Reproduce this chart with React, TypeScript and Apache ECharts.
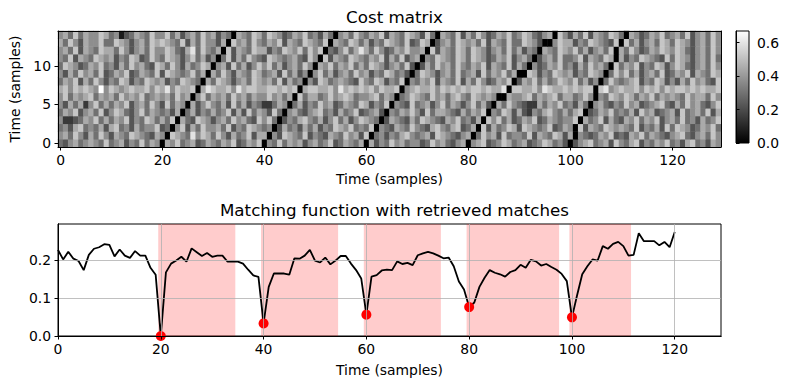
import React, { useEffect, useRef } from "react";
import * as echarts from "echarts";

const FONT = "'DejaVu Sans', sans-serif";

// Cost matrix, row 0 (bottom) to row 14 (top); each digit d is a grey level d/9 * costColorMax
const costRows: string[] = [
  "4356456547 4563547465 4657456346 5465734657 3547465635 6457346546 4635475645 5347564356 4567345764 5634576453 4356745637 5467354657 4536745365",
  "5647536475 3654765436 5476548576 4753645736 6453765473 5436547563 7645354675 4563765435 6347563745 5473654763 6754346573 4365746543 5674356475",
  "4536745463 6745364557 3465736475 5647354765 4573645364 6354765745 4765436547 5436754673 4657364576 3765457346 5473654765 6547354637 4765346574",
  "5223465746 4657354764 6475643765 3564756437 5746354675 4635746357 6547365436 4765436574 5364757463 4657346545 5736457364 3657465735 6474536457",
  "4657356473 5764357465 4536746354 6457363746 5374656435 6745364573 4563754657 5374665436 4657354763 6325467546 4675346574 5463756345 6374564736",
  "5364625746 4657356475 3746546357 5463746354 2246574635 4756346547 6354765437 4563574653 5746356475 4322646574 5364756435 4756345674 3647564357",
  "5746567465 6475657456 5647566574 6564756465 5756465746 6457567645 5674656457 6547564675 4765657465 5674656746 6457565476 5764657465 6547566475",
  "6757676595 7656766757 6857667768 7667586776 6776767567 7667586767 6757667756 7667576767 6776766857 7667587667 6767767856 7667576757 6776767667",
  "4657364753 5476354765 6354765426 4765356476 5647364575 3764565437 5476354765 4657365473 6475346574 3657464576 5746356475 4567354763 5364756437",
  "5364756473 4657346547 3765457463 6475365476 4563746354 5746356475 6354764537 4765356474 5637465746 4576354765 6354765347 5746356473 4657365476",
  "4765346574 5364756437 6475364576 4563746357 5746356475 3657465746 4765356473 5364756475 4657365473 6475346574 5364756437 4657354763 5764356475",
  "5473654765 6354763475 4765357463 5647364754 3765456437 5473654765 4657364735 6354765476 4765346573 5647356474 4573654765 6354765437 4765356474",
  "5647365476 6475356475 5764368475 4657365476 6354765747 5764357468 6475346575 5647365476 4765356474 6354765476 5746356475 6475346576 5764356475",
  "6475365574 4765356476 7654736475 5364756475 4657365476 5473654764 6354765473 4765356476 5647365474 4765346576 6354765437 5746356476 4765356475",
  "5647465576 4513465475 5746356475 6354765476 4765346574 5364656475 4657365476 5374665473 6475346574 5764356475 3647365476 4765346574 5647356475",
];
const costColorMax = 0.67;

// Warping paths (zero-cost cells): for each row 0..14, the column(s) on the path
const warpPaths: number[][][] = [
  [[20], [21], [22], [23], [24], [25], [26], [27], [28], [29], [30], [31], [32], [33], [34]],
  [[40], [41], [42], [43], [44], [45], [46], [47], [48], [49], [50], [51], [52], [53], [54]],
  [[60], [61], [62], [63], [64], [65], [66], [67], [68], [69], [70], [71], [72], [73], [74]],
  [[80], [81], [82], [83], [84], [85], [86, 87], [88], [89], [90, 91], [92], [93], [94], [95, 96], [97]],
  [[100], [101], [101], [102], [103], [104], [105], [105], [106], [107], [108], [109], [109], [110], [111]],
];

const matchStarts = [20, 40, 60, 80, 100];
const matchEnds = [34, 54, 74, 97, 111];

const deltaValues = [
  0.226, 0.201, 0.221, 0.203, 0.197, 0.173, 0.213, 0.229, 0.233, 0.241,
  0.239, 0.209, 0.227, 0.211, 0.205, 0.223, 0.211, 0.211, 0.179, 0.161,
  0.0, 0.167, 0.19, 0.198, 0.208, 0.195, 0.23, 0.22, 0.21, 0.218,
  0.208, 0.211, 0.211, 0.195, 0.196, 0.195, 0.19, 0.174, 0.159, 0.155,
  0.033, 0.129, 0.164, 0.164, 0.164, 0.161, 0.204, 0.203, 0.211, 0.226,
  0.198, 0.193, 0.206, 0.188, 0.198, 0.21, 0.21, 0.19, 0.173, 0.151,
  0.056, 0.156, 0.16, 0.172, 0.174, 0.173, 0.196, 0.189, 0.192, 0.186,
  0.212, 0.217, 0.221, 0.217, 0.211, 0.204, 0.206, 0.183, 0.143, 0.122,
  0.076, 0.088, 0.129, 0.153, 0.173, 0.166, 0.162, 0.156, 0.168, 0.173,
  0.187, 0.179, 0.2, 0.196, 0.185, 0.189, 0.181, 0.174, 0.163, 0.144,
  0.049, 0.107, 0.162, 0.183, 0.201, 0.198, 0.236, 0.229, 0.242, 0.247,
  0.236, 0.211, 0.213, 0.27, 0.249, 0.249, 0.249, 0.238, 0.247, 0.233,
  0.273,
];

const heatXTicks = [0, 20, 40, 60, 80, 100, 120];
const heatYTicks = [0, 5, 10];
const deltaXTicks = [0, 20, 40, 60, 80, 100, 120];
const deltaYTicks = [0, 0.1, 0.2];
const colorbarTicks = [0, 0.2, 0.4, 0.6];

function buildOption() {
  const rows = costRows.map((r) => r.replace(/ /g, ""));
  const colCats = rows[0].split("").map((_, i) => String(i));
  const rowCats = rows.map((_, i) => String(i));
  const grid: number[][] = rows.map((r) => r.split("").map((d) => (Number(d) / 9) * costColorMax));
  warpPaths.forEach((path) =>
    path.forEach((cols, r) => cols.forEach((c) => { grid[r][c] = 0; }))
  );
  const heatData: number[][] = [];
  grid.forEach((row, r) => row.forEach((v, c) => heatData.push([c, r, v])));

  const black = { color: "#000" };
  const labelStyle = { color: "#000", fontFamily: FONT, fontSize: 13.9 };
  const nameStyle = { color: "#000", fontFamily: FONT, fontSize: 13.9 };
  const titleStyle = { color: "#000", fontFamily: FONT, fontSize: 16.7, fontWeight: "normal" as const };
  const xTickFn = (i: number) => heatXTicks.includes(i);
  const yTickFn = (i: number) => heatYTicks.includes(i);
  const grey = { color: "#b0b0b0", width: 0.8 };

  return {
    animation: false,
    backgroundColor: "#fff",
    textStyle: { fontFamily: FONT },
    title: [
      { text: "Cost matrix", left: 389.5, textAlign: "center", top: 3, textStyle: titleStyle },
      { text: "Matching function with retrieved matches", left: 389.5, textAlign: "center", top: 196, textStyle: titleStyle },
    ],
    grid: [
      { left: 58, right: 69, top: 31, height: 116, outerBoundsMode: "none" },
      { left: 58, right: 69, top: 224, height: 112, show: true, borderColor: "#000", borderWidth: 1, outerBoundsMode: "none" },
      {
        left: 736, width: 13, top: 31, height: 112, show: true, borderColor: "#000", borderWidth: 1, outerBoundsMode: "none",
        backgroundColor: new echarts.graphic.LinearGradient(0, 0, 0, 1, [
          { offset: 0, color: "#ffffff" },
          { offset: 1, color: "#000000" },
        ]),
      },
    ],
    visualMap: {
      type: "continuous", show: false, min: 0, max: costColorMax, seriesIndex: 0, dimension: 2,
      inRange: { color: ["#000000", "#ffffff"] },
    },
    xAxis: [
      {
        type: "category", gridIndex: 0, data: colCats, z: 5,
        axisLine: { show: true, lineStyle: black },
        axisTick: { show: true, interval: xTickFn, alignWithLabel: true, length: 3.5, lineStyle: black },
        axisLabel: { interval: xTickFn, margin: 6, ...labelStyle },
        splitLine: { show: false },
        name: "Time (samples)", nameLocation: "middle", nameGap: 25, nameTextStyle: nameStyle,
      },
      {
        type: "category", gridIndex: 0, position: "top", data: colCats, z: 5,
        axisLine: { show: true, lineStyle: black }, axisTick: { show: false }, axisLabel: { show: false }, splitLine: { show: false },
      },
      {
        type: "value", gridIndex: 1, min: 0, max: 129, interval: 20, z: 5,
        axisLine: { show: true, lineStyle: black },
        axisTick: { show: true, length: 3.5, lineStyle: black, customValues: deltaXTicks },
        axisLabel: { margin: 6, customValues: deltaXTicks, ...labelStyle },
        splitLine: { show: true, lineStyle: grey },
        name: "Time (samples)", nameLocation: "middle", nameGap: 27, nameTextStyle: nameStyle,
      },
      {
        type: "value", gridIndex: 1, position: "top", min: 0, max: 129, z: 5,
        axisLine: { show: true, lineStyle: black }, axisTick: { show: false }, axisLabel: { show: false }, splitLine: { show: false },
      },
      { type: "value", gridIndex: 2, min: 0, max: 1, show: false },
    ],
    yAxis: [
      {
        type: "category", gridIndex: 0, data: rowCats, z: 5,
        axisLine: { show: true, lineStyle: black },
        axisTick: { show: true, interval: yTickFn, alignWithLabel: true, length: 3.5, lineStyle: black },
        axisLabel: { interval: yTickFn, margin: 7, ...labelStyle },
        splitLine: { show: false },
        name: "Time (samples)", nameLocation: "middle", nameGap: 36, nameRotate: 90, nameTextStyle: nameStyle,
      },
      {
        type: "category", gridIndex: 0, position: "right", data: rowCats, z: 5,
        axisLine: { show: true, lineStyle: black }, axisTick: { show: false }, axisLabel: { show: false }, splitLine: { show: false },
      },
      {
        type: "value", gridIndex: 1, min: 0, max: 0.294, interval: 0.1, z: 5,
        axisLine: { show: true, lineStyle: black },
        axisTick: { show: true, length: 3.5, lineStyle: black, customValues: deltaYTicks },
        axisLabel: { margin: 7, customValues: deltaYTicks, formatter: (v: number) => v.toFixed(1), ...labelStyle },
        splitLine: { show: true, lineStyle: grey },
      },
      {
        type: "value", gridIndex: 1, position: "right", min: 0, max: 0.294, z: 5,
        axisLine: { show: true, lineStyle: black }, axisTick: { show: false }, axisLabel: { show: false }, splitLine: { show: false },
      },
      {
        type: "value", gridIndex: 2, position: "right", min: 0, max: costColorMax, z: 5,
        axisLine: { show: true, lineStyle: black },
        axisTick: { show: true, length: 3.5, lineStyle: black, customValues: colorbarTicks },
        axisLabel: { margin: 8, customValues: colorbarTicks, formatter: (v: number) => v.toFixed(1), ...labelStyle },
        splitLine: { show: false },
      },
    ],
    series: [
      {
        type: "heatmap", xAxisIndex: 0, yAxisIndex: 0, data: heatData, progressive: 0,
        itemStyle: { borderWidth: 0 }, emphasis: { disabled: true }, silent: true,
      },
      {
        type: "line", xAxisIndex: 2, yAxisIndex: 2, data: deltaValues.map((v, i) => [i, v]),
        symbol: "none", lineStyle: { color: "#000", width: 1.8 }, silent: true, z: 3,
        markArea: {
          silent: true,
          itemStyle: { color: "rgba(255,0,0,0.2)" },
          data: matchStarts.map((s, k) => [{ xAxis: s - 0.5 }, { xAxis: matchEnds[k] + 0.5 }]),
        },
      },
      {
        type: "scatter", xAxisIndex: 2, yAxisIndex: 2, symbolSize: 10, silent: true, z: 4,
        itemStyle: { color: "#ff0000", opacity: 1 },
        data: matchStarts.map((p) => [p, deltaValues[p]]),
      },
    ],
  };
}

export default function App() {
  const ref = useRef<HTMLDivElement>(null);
  useEffect(() => {
    const chart = echarts.init(ref.current!, null, { renderer: "svg" });
    chart.setOption(buildOption() as any);
    return () => chart.dispose();
  }, []);
  return <div ref={ref} style={{ position: "fixed", left: 0, top: 0, width: 790, height: 389 }} />;
}
